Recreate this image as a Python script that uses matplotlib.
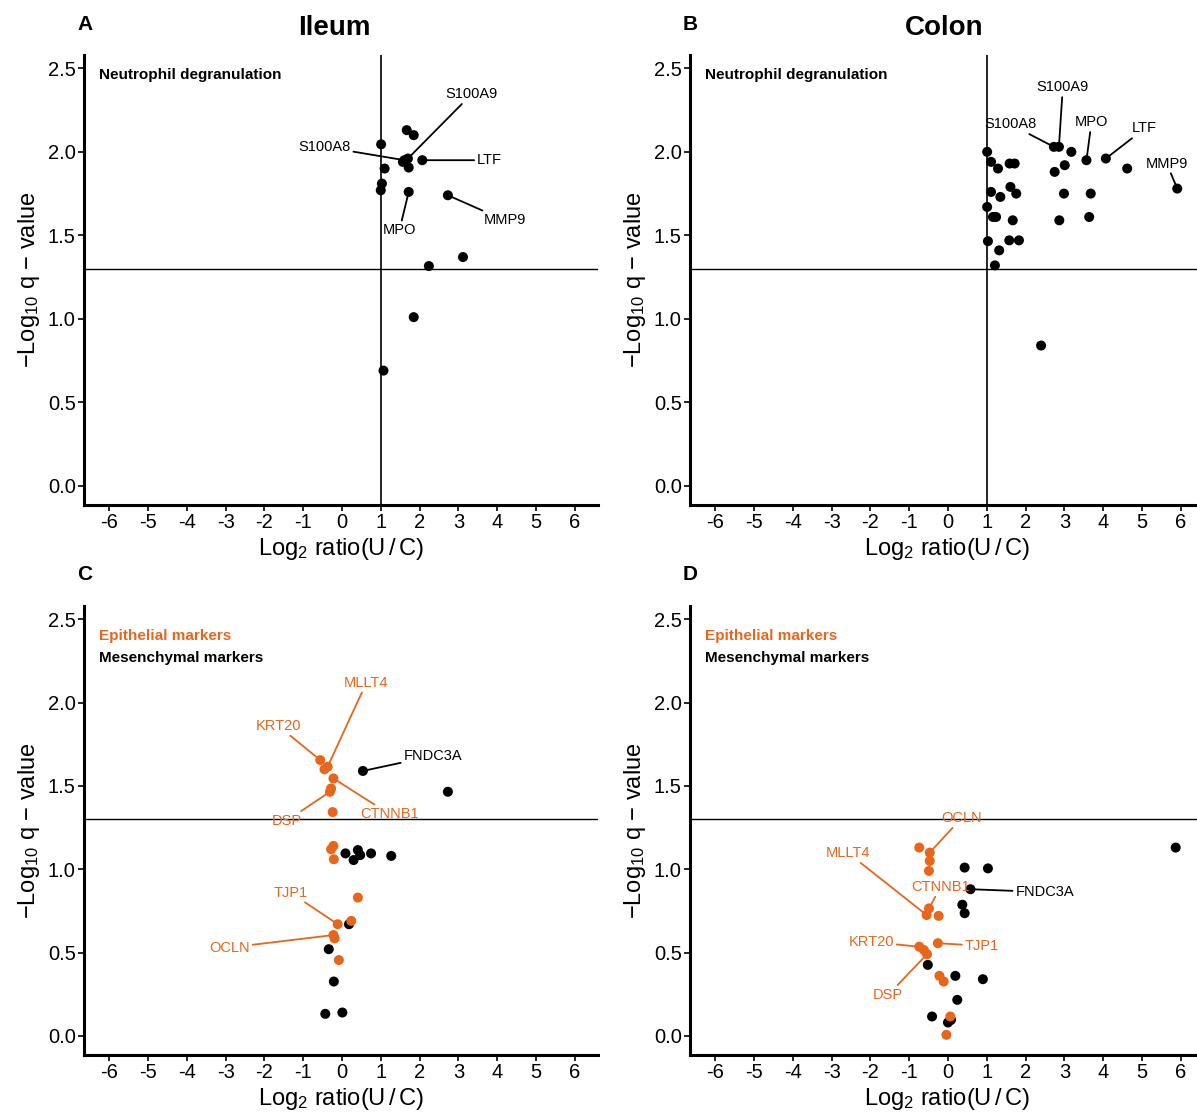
import matplotlib
matplotlib.use("Agg")
import matplotlib.pyplot as plt

plt.rcParams['font.family'] = ['Liberation Sans', 'DejaVu Sans']
plt.rcParams['mathtext.fontset'] = 'custom'
plt.rcParams['mathtext.rm'] = 'Liberation Sans'
plt.rcParams['mathtext.it'] = 'Liberation Sans'

ORANGE = '#E8651A'

# ---------------- data ----------------
# Panel A (Ileum) - neutrophil degranulation
ileum_x = [1.67, 1.85, 1.01, 1.61, 1.70, 2.07, 1.72, 1.10, 1.03, 1.00, 1.72, 2.73, 3.12, 2.24, 1.85, 1.07, 1.57]
ileum_y = [2.13, 2.10, 2.045, 1.95, 1.96, 1.95, 1.906, 1.90, 1.81, 1.77, 1.76, 1.74, 1.37, 1.316, 1.01, 0.69, 1.94]
ileum_labels = {'S100A9': 4, 'S100A8': 3, 'LTF': 5, 'MPO': 10, 'MMP9': 11}

# Panel B (Colon) - neutrophil degranulation
colon_x = [1.01, 1.11, 1.29, 1.59, 1.72, 2.73, 2.86, 3.18, 3.01, 2.75, 3.57, 4.07, 4.62, 5.91,
           1.11, 1.35, 1.61, 1.76, 2.99, 3.68, 1.01, 1.16, 1.24, 1.67, 2.87, 3.64,
           1.03, 1.58, 1.83, 1.32, 1.21, 2.40]
colon_y = [2.00, 1.94, 1.90, 1.93, 1.93, 2.03, 2.03, 2.00, 1.92, 1.88, 1.95, 1.96, 1.90, 1.78,
           1.76, 1.73, 1.79, 1.75, 1.75, 1.75, 1.67, 1.61, 1.61, 1.59, 1.59, 1.61,
           1.465, 1.47, 1.47, 1.41, 1.32, 0.84]
colon_labels = {'S100A9': 6, 'S100A8': 5, 'MPO': 10, 'LTF': 11, 'MMP9': 13}

# Panel C (Ileum) - EMT markers
ileum_epi_x = [-0.56, -0.45, -0.37, -0.22, -0.28, -0.31, -0.24, -0.22, -0.28, -0.21, 0.41, 0.24, -0.11, -0.22, -0.19, -0.08]
ileum_epi_y = [1.655, 1.60, 1.615, 1.545, 1.485, 1.465, 1.343, 1.14, 1.12, 1.06, 0.83, 0.69, 0.67, 0.605, 0.585, 0.455]
ileum_epi_labels = {'KRT20': 0, 'MLLT4': 2, 'CTNNB1': 3, 'DSP': 5, 'TJP1': 12, 'OCLN': 13}
ileum_mes_x = [0.54, 2.73, 0.09, 0.41, 0.47, 0.30, 0.75, 1.27, 0.18, -0.34, -0.21, -0.43, 0.01]
ileum_mes_y = [1.59, 1.465, 1.095, 1.115, 1.085, 1.055, 1.095, 1.08, 0.67, 0.52, 0.326, 0.132, 0.14]
ileum_mes_labels = {'FNDC3A': 0}

# Panel D (Colon) - EMT markers
colon_epi_x = [-0.74, -0.47, -0.47, -0.49, -0.49, -0.55, -0.24, -0.26, -0.74, -0.62, -0.54, -0.22, -0.11, 0.06, -0.04]
colon_epi_y = [1.13, 1.10, 1.05, 0.99, 0.765, 0.725, 0.72, 0.556, 0.535, 0.515, 0.49, 0.36, 0.326, 0.116, 0.006]
colon_epi_labels = {'OCLN': 1, 'CTNNB1': 4, 'MLLT4': 5, 'TJP1': 7, 'KRT20': 8, 'DSP': 10}
colon_mes_x = [0.43, 1.03, 0.58, 0.37, 0.43, -0.52, 0.19, 0.90, 0.24, -0.41, 0.08, 0.00, 5.87]
colon_mes_y = [1.01, 1.005, 0.88, 0.787, 0.736, 0.426, 0.36, 0.34, 0.216, 0.116, 0.096, 0.08, 1.13]
colon_mes_labels = {'FNDC3A': 2}

x_ticks = [-6, -5, -4, -3, -2, -1, 0, 1, 2, 3, 4, 5, 6]
y_ticks = [0.0, 0.5, 1.0, 1.5, 2.0, 2.5]
q_threshold = 1.3
fc_threshold = 1

# label text placements (layout only)
label_pos = {
    'A': {'S100A9': (3.34, 2.345), 'S100A8': (-0.45, 2.03), 'LTF': (3.8, 1.95), 'MPO': (1.48, 1.53), 'MMP9': (4.19, 1.59)},
    'B': {'S100A9': (2.96, 2.386), 'S100A8': (1.61, 2.165), 'MPO': (3.70, 2.177), 'LTF': (5.07, 2.14), 'MMP9': (5.64, 1.93)},
    'C': {'MLLT4': (0.63, 2.12), 'KRT20': (-1.64, 1.86), 'FNDC3A': (2.34, 1.68), 'DSP': (-1.43, 1.29),
          'CTNNB1': (1.23, 1.33), 'TJP1': (-1.33, 0.86), 'OCLN': (-2.90, 0.53)},
    'D': {'OCLN': (0.35, 1.307), 'MLLT4': (-2.57, 1.097), 'CTNNB1': (-0.19, 0.893), 'FNDC3A': (2.49, 0.863),
          'KRT20': (-1.98, 0.564), 'TJP1': (0.87, 0.54), 'DSP': (-1.54, 0.246)},
}

W, H = 1197, 1117
fig = plt.figure(figsize=(W / 100, H / 100), dpi=100)

def make_ax(left, top, right, bottom):
    return fig.add_axes([left / W, 1 - bottom / H, (right - left) / W, (bottom - top) / H])

axA = make_ax(84, 55, 598, 505)
axB = make_ax(690, 55, 1204, 505)
axC = make_ax(84, 606, 598, 1055)
axD = make_ax(690, 606, 1204, 1055)

def style(ax):
    ax.set_xlim(-6.65, 6.6)
    ax.set_ylim(-0.115, 2.58)
    ax.set_xticks(x_ticks)
    ax.set_xticklabels([str(t) for t in x_ticks])
    ax.set_yticks(y_ticks)
    ax.set_yticklabels([f'{t:.1f}' for t in y_ticks])
    for s in ['top', 'right']:
        ax.spines[s].set_visible(False)
    for s in ['left', 'bottom']:
        ax.spines[s].set_linewidth(2.2)
        ax.spines[s].set_color('black')
    ax.tick_params(axis='both', direction='out', length=4, width=1.2, labelsize=14.5, colors='black', pad=2)
    ax.set_xlabel(r'$\mathregular{Log_2}$ ratio(U$\,$/$\,$C)', fontsize=17, labelpad=3)
    ax.set_ylabel(r'$-\mathregular{Log_{10}}$ q $-$ value', fontsize=17, labelpad=4)
    ax.axhline(q_threshold, color='black', lw=1.0, zorder=1)

def scatter_labels(ax, xs, ys, labels, color, key):
    ax.scatter(xs, ys, s=52, color=color, edgecolors='none', zorder=3, clip_on=False)
    for name, idx in labels.items():
        tx, ty = label_pos[key][name]
        ax.annotate(name, xy=(xs[idx], ys[idx]), xytext=(tx, ty), fontsize=10.5, color=color,
                    ha='center', va='center', zorder=4,
                    arrowprops=dict(arrowstyle='-', color=color, lw=1.3, shrinkA=0, shrinkB=3))

for ax in (axA, axB, axC, axD):
    style(ax)

axA.axvline(fc_threshold, color='black', lw=1.2, zorder=1)
axB.axvline(fc_threshold, color='black', lw=1.2, zorder=1)

scatter_labels(axA, ileum_x, ileum_y, ileum_labels, 'black', 'A')
scatter_labels(axB, colon_x, colon_y, colon_labels, 'black', 'B')
scatter_labels(axC, ileum_mes_x, ileum_mes_y, ileum_mes_labels, 'black', 'C')
scatter_labels(axC, ileum_epi_x, ileum_epi_y, ileum_epi_labels, ORANGE, 'C')
scatter_labels(axD, colon_mes_x, colon_mes_y, colon_mes_labels, 'black', 'D')
scatter_labels(axD, colon_epi_x, colon_epi_y, colon_epi_labels, ORANGE, 'D')

for ax in (axA, axB):
    ax.text(-6.26, 2.46, 'Neutrophil degranulation', fontsize=11, fontweight='bold', ha='left', va='center')
for ax in (axC, axD):
    ax.text(-6.26, 2.40, 'Epithelial markers', fontsize=11, fontweight='bold', color=ORANGE, ha='left', va='center')
    ax.text(-6.26, 2.27, 'Mesenchymal markers', fontsize=11, fontweight='bold', color='black', ha='left', va='center')

# panel letters and titles
for letter, (px, py) in {'A': (85, 24), 'B': (690, 24), 'C': (85, 574), 'D': (690, 574)}.items():
    fig.text(px / W, 1 - py / H, letter, fontsize=15, fontweight='bold', ha='center', va='center')
fig.text(334 / W, 1 - 28 / H, 'Ileum', fontsize=20, fontweight='bold', ha='center', va='center')
fig.text(944 / W, 1 - 28 / H, 'Colon', fontsize=20, fontweight='bold', ha='center', va='center')

fig.savefig('out.png', dpi=100, facecolor='white')
